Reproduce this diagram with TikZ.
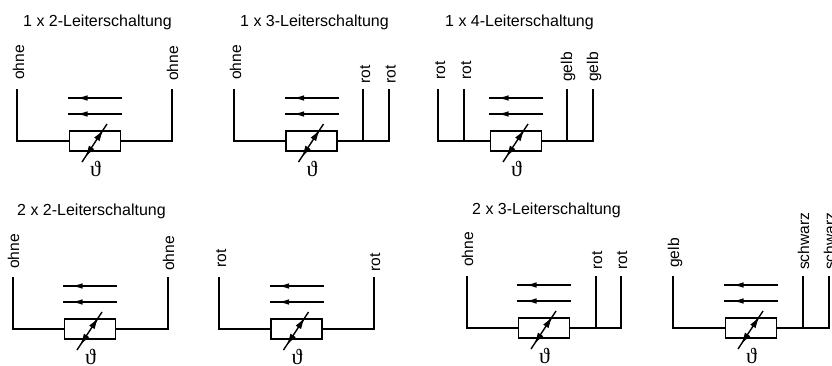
\documentclass[tikz,border=0pt]{standalone}
\usepackage{fontspec}
\setmainfont{Liberation Sans}
\newfontfamily\thetafont{Liberation Serif}
\usetikzlibrary{arrows.meta, decorations.markings}

\tikzset{
  schematitle/.style = {anchor = base west, inner sep = 0, font = \fontsize{16}{18}\selectfont},
  wirelabel/.style = {anchor = base west, rotate = 90, inner sep = 0, font = \fontsize{15.6}{18}\selectfont},
  wire/.style = {draw, line width = 1.7pt},
  thinwire/.style = {draw, line width = 1.2pt},
  heavywire/.style = {draw, line width = 2.2pt},
  flow/.style = {draw, line width = 1.9pt, postaction = {decorate}, decoration = {markings, mark = at position 0.86 with {\arrow{Latex[length = 12pt, width = 5.5pt]}}}},
  templine/.style = {draw, line width = 1.4pt, postaction = {decorate}, decoration = {markings,
      mark = at position 0.86 with {\arrow{Latex[length = 12pt, width = 6.5pt]}},
      mark = at position 0.12 with {\arrowreversed{Latex[length = 12pt, width = 6.5pt]}}}},
  sensor/.pic = {
    \node[draw, rectangle, line width = 1.6pt, minimum width = 51pt, minimum height = 20.5pt, inner sep = 0, fill = white] (-box) at (0, 0) {};
    \path[flow] (27, -43) -- (-27, -43);
    \path[flow] (27, -27) -- (-27, -27);
    \path[templine] (-13, 21) -- (12, -17);
    \node[inner sep = 0, font = \fontsize{22}{24}\thetafont] (-temp) at (0.5, 28) {ϑ};
  }
}

\begin{document}
\begin{tikzpicture}[x = 1pt, y = -1pt]
  \useasboundingbox (0, 0) rectangle (832, 365);

  % 1 x 2
  \node[schematitle] (t1) at (23, 26.5) {1 x 2-Leiterschaltung};
  \pic (s1) at (95, 141) {sensor};
  \coordinate (a1) at (17, 89);
  \coordinate (b1) at (172, 89);
  \path[thinwire] (a1) |- (s1-box.west);
  \path[thinwire] (b1) |- (s1-box.east);
  \node[wirelabel] (la1) at ([xshift = 7pt, yshift = 9pt] a1) {ohne};
  \node[wirelabel] (lb1) at ([xshift = 6pt, yshift = 8pt] b1) {ohne};

  % 1 x 3
  \node[schematitle] (t2) at (240, 26.5) {1 x 3-Leiterschaltung};
  \pic (s2) at (311.5, 141) {sensor};
  \coordinate (a2) at (234, 89);
  \coordinate (b2) at (363, 89);
  \coordinate (c2) at (389, 89);
  \path[wire] (a2) |- (s2-box.west);
  \path[heavywire] (b2) -- (b2 |- s2-box.east);
  \path[wire] (c2) |- (s2-box.east);
  \node[wirelabel] (la2) at ([xshift = 7pt, yshift = 9pt] a2) {ohne};
  \node[wirelabel] (lb2) at ([xshift = 7pt, yshift = 5pt] b2) {rot};
  \node[wirelabel] (lc2) at ([xshift = 6.5pt, yshift = 5pt] c2) {rot};

  % 1 x 4
  \node[schematitle] (t3) at (445, 26.5) {1 x 4-Leiterschaltung};
  \pic (s3) at (516, 141) {sensor};
  \coordinate (a3) at (438, 89);
  \coordinate (b3) at (464, 89);
  \coordinate (c3) at (567, 89);
  \coordinate (d3) at (593, 89);
  \path[wire] (a3) |- (s3-box.west);
  \path[wire] (b3) -- (b3 |- s3-box.west);
  \path[heavywire] (c3) -- (c3 |- s3-box.east);
  \path[wire] (d3) |- (s3-box.east);
  \node[wirelabel] (la3) at ([xshift = 7pt, yshift = 9pt] a3) {rot};
  \node[wirelabel] (lb3) at ([xshift = 7pt, yshift = 9pt] b3) {rot};
  \node[wirelabel] (lc3) at ([xshift = 5pt, yshift = 7pt] c3) {gelb};
  \node[wirelabel] (ld3) at ([xshift = 5pt, yshift = 7pt] d3) {gelb};

  % 2 x 2
  \node[schematitle] (t4) at (17, 215) {2 x 2-Leiterschaltung};
  \pic (s4) at (90, 329) {sensor};
  \coordinate (a4) at (13, 277);
  \coordinate (b4) at (168, 277);
  \path[wire] (a4) |- (s4-box.west);
  \path[wire] (b4) |- (s4-box.east);
  \node[wirelabel] (la4) at ([xshift = 6pt, yshift = 8pt] a4) {ohne};
  \node[wirelabel] (lb4) at ([xshift = 6pt, yshift = 6pt] b4) {ohne};

  \pic (s5) at (296.5, 329) {sensor};
  \coordinate (a5) at (219, 277);
  \coordinate (b5) at (374, 277);
  \path[wire] (a5) |- (s5-box.west);
  \path[wire] (b5) |- (s5-box.east);
  \node[wirelabel] (la5) at ([xshift = 7pt, yshift = 9pt] a5) {rot};
  \node[wirelabel] (lb5) at ([xshift = 6pt, yshift = 5pt] b5) {rot};

  % 2 x 3
  \node[schematitle] (t6) at (472, 214) {2 x 3-Leiterschaltung};
  \pic (s6) at (544, 328) {sensor};
  \coordinate (a6) at (467, 276);
  \coordinate (b6) at (596, 276);
  \coordinate (c6) at (621, 276);
  \path[wire] (a6) |- (s6-box.west);
  \path[heavywire] (b6) -- (b6 |- s6-box.east);
  \path[wire] (c6) |- (s6-box.east);
  \node[wirelabel] (la6) at ([xshift = 6pt, yshift = 9pt] a6) {ohne};
  \node[wirelabel] (lb6) at ([xshift = 6pt, yshift = 6pt] b6) {rot};
  \node[wirelabel] (lc6) at ([xshift = 6pt, yshift = 6pt] c6) {rot};

  \pic (s7) at (751, 328) {sensor};
  \coordinate (a7) at (673, 276);
  \coordinate (b7) at (803, 276);
  \coordinate (c7) at (829, 276);
  \path[wire] (a7) |- (s7-box.west);
  \path[wire] (b7) -- (b7 |- s7-box.east);
  \path[wire] (c7) |- (s7-box.east);
  \node[wirelabel] (la7) at ([xshift = 6pt, yshift = 8pt] a7) {gelb};
  \node[wirelabel] (lb7) at ([xshift = 6pt, yshift = 6pt] b7) {schwarz};
  \node[wirelabel] (lc7) at ([xshift = 6pt, yshift = 6pt] c7) {schwarz};
\end{tikzpicture}
\end{document}
